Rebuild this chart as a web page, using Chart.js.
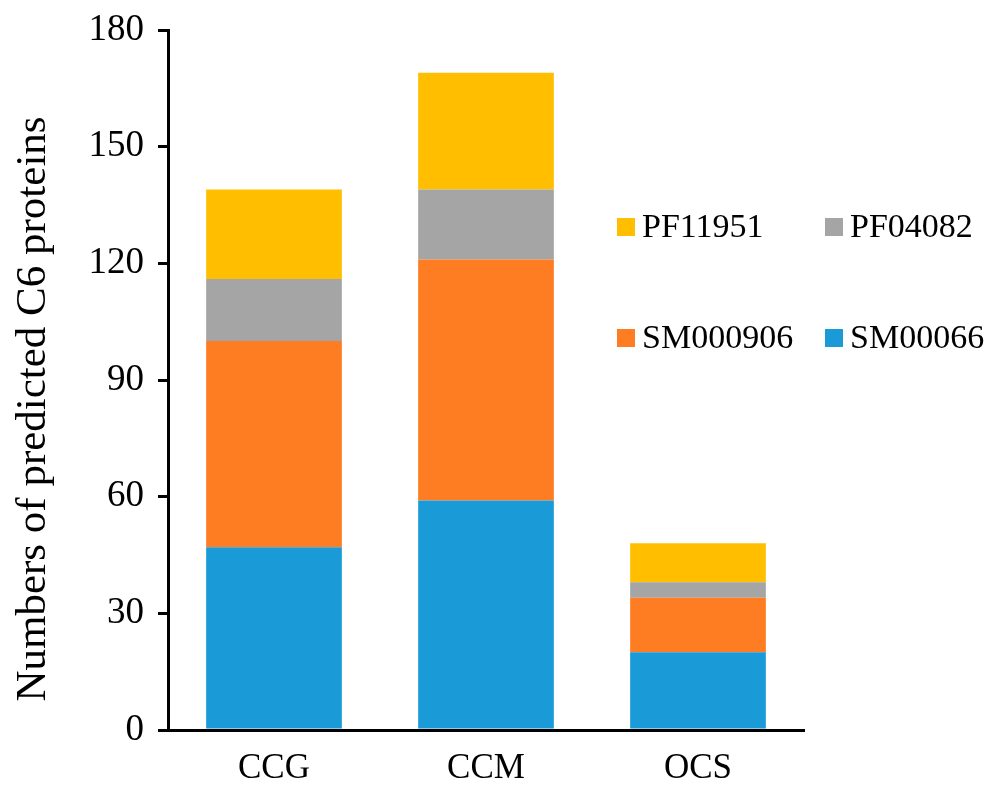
<!DOCTYPE html>
<html>
<head>
<meta charset="utf-8">
<script src="https://cdn.jsdelivr.net/npm/chart.js@4.4.0/dist/chart.umd.min.js"></script>
<style>
html,body{margin:0;padding:0;background:#fff;}
#wrap{width:985px;height:785px;}
</style>
</head>
<body>
<div id="wrap"><canvas id="c" width="985" height="785"></canvas></div>
<script>
const categories = ['CCG', 'CCM', 'OCS'];
const SM00066 = [47, 59, 20];
const SM000906 = [53, 62, 14];
const PF04082 = [16, 18, 4];
const PF11951 = [23, 30, 10];
const yTicks = [0, 30, 60, 90, 120, 150, 180];
const yTitle = 'Numbers of predicted C6 proteins';

const colors = {
  SM00066: '#1A9BD7',
  SM000906: '#FE7D22',
  PF04082: '#A5A5A5',
  PF11951: '#FFBF00'
};

const FONT = '"Liberation Serif", "Times New Roman", serif';

const legendPlugin = {
  id: 'gridLegend',
  afterDraw(chart) {
    const ctx = chart.ctx;
    const order = ['PF11951', 'PF04082', 'SM000906', 'SM00066'];
    const pos = [[617, 227], [825, 227], [617, 338], [825, 338]];
    ctx.save();
    ctx.font = '34px ' + FONT;
    ctx.textBaseline = 'middle';
    ctx.textAlign = 'left';
    order.forEach((lab, i) => {
      const ds = chart.data.datasets.find(d => d.label === lab);
      const [x, y] = pos[i];
      ctx.fillStyle = ds.backgroundColor;
      ctx.fillRect(x, y - 9, 18, 18);
      ctx.fillStyle = '#000';
      ctx.fillText(lab, x + 25, y + 1);
    });
    ctx.restore();
  }
};

const yTitlePlugin = {
  id: 'yTitle',
  afterDraw(chart) {
    const ctx = chart.ctx;
    ctx.save();
    ctx.font = '43px ' + FONT;
    ctx.fillStyle = '#000';
    ctx.textAlign = 'center';
    ctx.textBaseline = 'alphabetic';
    ctx.translate(45, 409);
    ctx.rotate(-Math.PI / 2);
    ctx.fillText(yTitle, 0, 0);
    ctx.restore();
  }
};

new Chart(document.getElementById('c'), {
  type: 'bar',
  data: {
    labels: categories,
    datasets: [
      { label: 'SM00066', data: SM00066, backgroundColor: colors.SM00066 },
      { label: 'SM000906', data: SM000906, backgroundColor: colors.SM000906 },
      { label: 'PF04082', data: PF04082, backgroundColor: colors.PF04082 },
      { label: 'PF11951', data: PF11951, backgroundColor: colors.PF11951 }
    ]
  },
  options: {
    responsive: false,
    animation: false,
    layout: { padding: { left: 0, right: 181, top: 30, bottom: 0 } },
    datasets: { bar: { barPercentage: 0.64, categoryPercentage: 1.0, borderWidth: 0 } },
    plugins: { legend: { display: false }, tooltip: { enabled: false } },
    scales: {
      x: {
        stacked: true,
        grid: { display: false },
        border: { display: true, color: '#000', width: 3 },
        ticks: { color: '#000', font: { family: FONT, size: 35 }, padding: 10 },
        afterFit(scale) { scale.height = 55; scale.paddingLeft = 0; scale.paddingRight = 0; }
      },
      y: {
        stacked: true,
        min: 0, max: 180,
        afterBuildTicks(scale) { scale.ticks = yTicks.map(v => ({ value: v })); },
        grid: { drawOnChartArea: false, tickLength: 10, color: '#000', lineWidth: 3 },
        border: { display: true, color: '#000', width: 3 },
        ticks: { color: '#000', font: { family: FONT, size: 37 }, padding: 14 },
        title: { display: false },
        afterFit(scale) { scale.width = 168; scale.paddingTop = 0; scale.paddingBottom = 0; }
      }
    }
  },
  plugins: [legendPlugin, yTitlePlugin]
});
</script>
</body>
</html>
